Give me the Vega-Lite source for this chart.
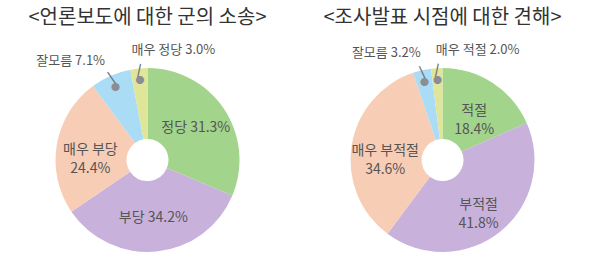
{
  "$schema": "https://vega.github.io/schema/vega-lite/v6.json",
  "padding": {"left": 5, "right": 5, "top": 8, "bottom": 0},
  "background": "white",
  "spacing": 10,
  "config": {
    "view": {"stroke": null},
    "font": "Noto Sans CJK KR",
    "title": {"fontSize": 20, "font": "Noto Sans CJK KR", "fontWeight": "normal", "color": "#333333", "offset": 16}
  },
  "datasets": {
    "a": [
      {"o": 1, "v": 31.3, "lab": "정당 31.3%"},
      {"o": 2, "v": 34.2, "lab": "부당 34.2%"},
      {"o": 3, "v": 24.4, "lab": "매우 부당\n24.4%"},
      {"o": 4, "v": 7.1, "lab": "잘모름 7.1%"},
      {"o": 5, "v": 3.0, "lab": "매우 정당 3.0%"}
    ],
    "b": [
      {"o": 1, "v": 18.4, "lab": "적절\n18.4%"},
      {"o": 2, "v": 41.8, "lab": "부적절\n41.8%"},
      {"o": 3, "v": 34.6, "lab": "매우 부적절\n34.6%"},
      {"o": 4, "v": 3.2, "lab": "잘모름 3.2%"},
      {"o": 5, "v": 2.0, "lab": "매우 적절 2.0%"}
    ]
  },
  "hconcat": [
    {
      "title": "<언론보도에 대한 군의 소송>",
      "width": 285, "height": 206,
      "data": {"name": "a"},
      "encoding": {
        "theta": {"field": "v", "type": "quantitative", "stack": true},
        "order": {"field": "o"},
        "color": {"field": "o", "type": "ordinal", "legend": null,
          "scale": {"domain": [1, 2, 3, 4, 5], "range": ["#a2d48c", "#c8b2dc", "#f8cdb5", "#abdcf5", "#dfe69a"]}}
      },
      "layer": [
        {"mark": {"type": "arc", "outerRadius": 92, "innerRadius": 21}},
        {"mark": {"type": "text", "radius": 58, "fontSize": 14, "lineBreak": "\n", "lineHeight": 19},
          "encoding": {"text": {"condition": {"test": "datum.v >= 8", "field": "lab"}, "value": ""}, "color": {"value": "#555555"}}},
        {"mark": {"type": "text", "radius": 90, "fontSize": 14, "angle": 325, "font": "DejaVu Sans"},
          "encoding": {"text": {"condition": {"test": "datum.o == 4", "value": "|"}, "value": ""}, "color": {"value": "#707070"}}},
        {"mark": {"type": "text", "radius": 90, "fontSize": 14, "angle": 12, "font": "DejaVu Sans"},
          "encoding": {"text": {"condition": {"test": "datum.o == 5", "value": "|"}, "value": ""}, "color": {"value": "#707070"}}},
        {"mark": {"type": "text", "radius": 80, "fontSize": 9},
          "encoding": {"text": {"condition": {"test": "datum.v < 8", "value": "●"}, "value": ""}, "color": {"value": "#8c8c94"}}},
        {"mark": {"type": "text", "radius": 106, "fontSize": 13, "align": "right", "dx": 0, "dy": -2},
          "encoding": {"text": {"condition": {"test": "datum.o == 4", "field": "lab"}, "value": ""}, "color": {"value": "#555555"}}},
        {"mark": {"type": "text", "radius": 106, "fontSize": 13, "align": "left", "dx": -6, "dy": -4},
          "encoding": {"text": {"condition": {"test": "datum.o == 5", "field": "lab"}, "value": ""}, "color": {"value": "#555555"}}}
      ]
    },
    {
      "title": "<조사발표 시점에 대한 견해>",
      "width": 285, "height": 206,
      "data": {"name": "b"},
      "encoding": {
        "theta": {"field": "v", "type": "quantitative", "stack": true},
        "order": {"field": "o"},
        "color": {"field": "o", "type": "ordinal", "legend": null,
          "scale": {"domain": [1, 2, 3, 4, 5], "range": ["#a2d48c", "#c8b2dc", "#f8cdb5", "#abdcf5", "#dfe69a"]}}
      },
      "layer": [
        {"mark": {"type": "arc", "outerRadius": 92, "innerRadius": 21}},
        {"mark": {"type": "text", "radius": 58, "fontSize": 14, "lineBreak": "\n", "lineHeight": 19},
          "encoding": {"text": {"condition": {"test": "datum.v >= 8", "field": "lab"}, "value": ""}, "color": {"value": "#555555"}}},
        {"mark": {"type": "text", "radius": 90, "fontSize": 14, "angle": 335, "font": "DejaVu Sans"},
          "encoding": {"text": {"condition": {"test": "datum.o == 4", "value": "|"}, "value": ""}, "color": {"value": "#707070"}}},
        {"mark": {"type": "text", "radius": 90, "fontSize": 14, "angle": 12, "font": "DejaVu Sans"},
          "encoding": {"text": {"condition": {"test": "datum.o == 5", "value": "|"}, "value": ""}, "color": {"value": "#707070"}}},
        {"mark": {"type": "text", "radius": 80, "fontSize": 9},
          "encoding": {"text": {"condition": {"test": "datum.v < 8", "value": "●"}, "value": ""}, "color": {"value": "#8c8c94"}}},
        {"mark": {"type": "text", "radius": 106, "fontSize": 13, "align": "right", "dx": 2, "dy": -4},
          "encoding": {"text": {"condition": {"test": "datum.o == 4", "field": "lab"}, "value": ""}, "color": {"value": "#555555"}}},
        {"mark": {"type": "text", "radius": 106, "fontSize": 13, "align": "left", "dx": 0, "dy": -4},
          "encoding": {"text": {"condition": {"test": "datum.o == 5", "field": "lab"}, "value": ""}, "color": {"value": "#555555"}}}
      ]
    }
  ]
}
